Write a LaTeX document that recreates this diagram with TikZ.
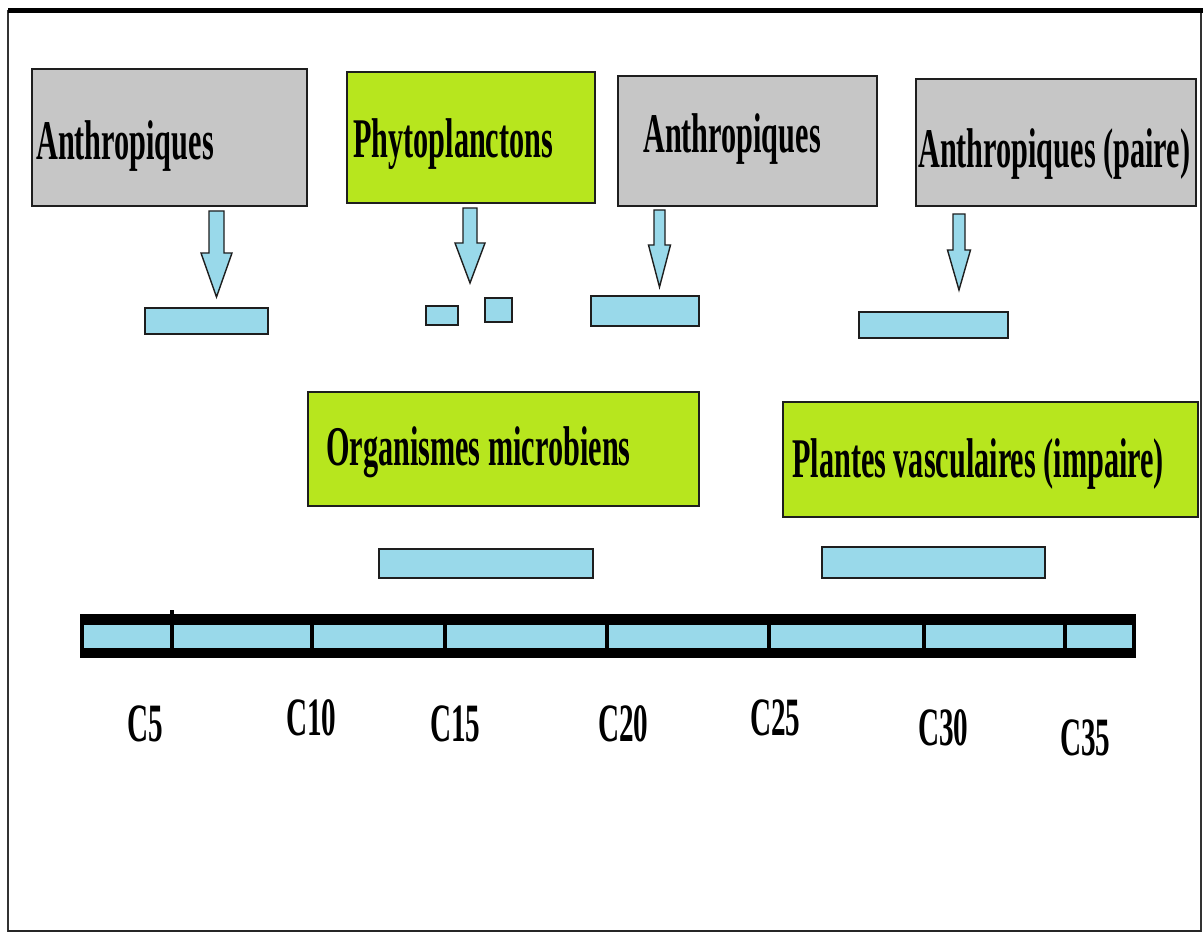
\documentclass[tikz,border=0pt]{standalone}
\usepackage{fontspec}
\newfontfamily\labfont{Liberation Serif}[FakeStretch=0.54]
\usetikzlibrary{calc}

\definecolor{boxgray}{RGB}{198,198,198}
\definecolor{boxgreen}{RGB}{183,230,30}
\definecolor{barblue}{RGB}{153,217,234}
\definecolor{edge}{RGB}{30,30,30}

\tikzset{
  srcbox/.style={draw=edge, line width=1.8pt, fill=boxgray},
  biobox/.style={draw=edge, line width=1.8pt, fill=boxgreen},
  rangebar/.style={draw=edge, line width=1.6pt, fill=barblue},
  blockarrow/.style={draw=edge, line width=1.4pt, fill=barblue, line join=miter},
  lab/.style={anchor=base west, inner sep=0pt, font=\labfont\bfseries\fontsize{56}{60}\selectfont},
  clab/.style={anchor=base west, inner sep=0pt, font=\labfont\bfseries\fontsize{54}{58}\selectfont},
}

% downward block arrow: centre x, top y, head start y, tip y, half shaft, half head
\newcommand\downblock[7]{%
  \draw[blockarrow] (#1-#5,#2) -- (#1+#5,#2) -- (#1+#5,#3) -- (#1+#6,#3)
    -- (#1,#4) -- (#1-#6,#3) -- (#1-#5,#3) -- cycle;
  \coordinate (#7) at (#1,#4);
}

\begin{document}
\begin{tikzpicture}[x=1pt,y=-1pt]
\useasboundingbox (0,0) rectangle (1203,933);
\fill[white] (0,0) rectangle (1203,933);

% frame
\draw[line width=1.5pt, black!80] (8,10) -- (8,931) -- (1201,931) -- (1201,10);
\draw[line width=2.5pt, black!85] (8,931) -- (1201,931);
\draw[line width=4.5pt] (8,10.5) -- (1203,10.5);

% source boxes
\node[srcbox, rectangle, anchor=north west, minimum width=275pt, minimum height=137pt, inner sep=0pt] (anth1) at (31,68) {};
\node[biobox, rectangle, anchor=north west, minimum width=248pt, minimum height=131pt, inner sep=0pt] (phyto) at (346,71) {};
\node[srcbox, rectangle, anchor=north west, minimum width=259pt, minimum height=130pt, inner sep=0pt] (anth2) at (617,75) {};
\node[srcbox, rectangle, anchor=north west, minimum width=280pt, minimum height=127pt, inner sep=0pt] (anth3) at (915,78) {};
\node[biobox, rectangle, anchor=north west, minimum width=391pt, minimum height=114pt, inner sep=0pt] (micro) at (307,391) {};
\node[biobox, rectangle, anchor=north west, minimum width=415pt, minimum height=115pt, inner sep=0pt] (plant) at (782,401) {};

% box labels
\node[lab] (t1) at (36,160) {Anthropiques};
\node[lab] (t2) at (353,158) {Phytoplanctons};
\node[lab] (t3) at (643,153) {Anthropiques};
\node[lab] (t4) at (918,168) {Anthropiques (paire)};
\node[lab] (t5) at (326,465) {Organismes microbiens};
\node[lab] (t6) at (792,477) {Plantes vasculaires (impaire)};

% arrows
\downblock{216.5}{211}{253}{297}{7.5}{15.5}{a1}
\downblock{470}{208}{243}{283}{7}{15}{a2}
\downblock{659.5}{210}{245}{287}{5.5}{11}{a3}
\downblock{959}{214}{250}{290}{6}{11.5}{a4}

% carbon ranges
\node[rangebar, rectangle, anchor=north west, minimum width=123pt, minimum height=26pt, inner sep=0pt] (r1) at (144,307) {};
\node[rangebar, rectangle, anchor=north west, minimum width=32pt, minimum height=19pt, inner sep=0pt] (r2a) at (425,305) {};
\node[rangebar, rectangle, anchor=north west, minimum width=27pt, minimum height=24pt, inner sep=0pt] (r2b) at (484,297) {};
\node[rangebar, rectangle, anchor=north west, minimum width=108pt, minimum height=30pt, inner sep=0pt] (r3) at (590,295) {};
\node[rangebar, rectangle, anchor=north west, minimum width=149pt, minimum height=26pt, inner sep=0pt] (r4) at (858,311) {};
\node[rangebar, rectangle, anchor=north west, minimum width=214pt, minimum height=29pt, inner sep=0pt] (r5) at (378,548) {};
\node[rangebar, rectangle, anchor=north west, minimum width=223pt, minimum height=31pt, inner sep=0pt] (r6) at (821,546) {};

% carbon scale
\fill[black] (80,614) rectangle (1136,658);
\fill[barblue] (84,625) rectangle (1132,648);
\draw[line width=4pt] (172,610) -- (172,648);
\foreach \x in {312,445,607,769,924,1065}
  \draw[line width=4pt] (\x,625) -- (\x,648);

% scale labels
\node[clab] (c5)  at (127,741) {C5};
\node[clab] (c10) at (286,735) {C10};
\node[clab] (c15) at (430,741) {C15};
\node[clab] (c20) at (598,741) {C20};
\node[clab] (c25) at (750,735) {C25};
\node[clab] (c30) at (918,745) {C30};
\node[clab] (c35) at (1060,755) {C35};
\end{tikzpicture}
\end{document}
